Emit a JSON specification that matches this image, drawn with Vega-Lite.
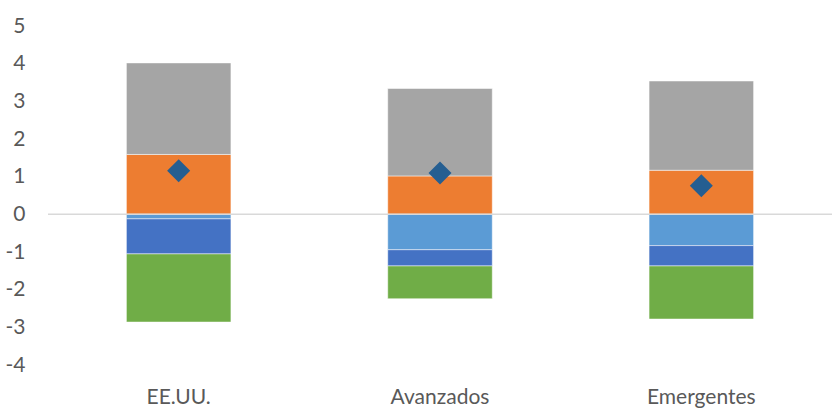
{
  "$schema": "https://vega.github.io/schema/vega-lite/v6.json",
  "width": 784,
  "height": 339,
  "autosize": {"type": "none"},
  "padding": {"left": 48, "top": 26, "right": 0, "bottom": 54},
  "background": "white",
  "config": {
    "view": {"stroke": null},
    "font": "Lato",
    "axisY": {
      "values": [-4, -3, -2, -1, 0, 1, 2, 3, 4, 5],
      "labelExpr": "toString(datum.value)",
      "labelOverlap": false,
      "grid": false,
      "domain": false,
      "ticks": false,
      "labelPadding": 23,
      "labelFontSize": 21,
      "labelColor": "#595959",
      "title": null
    }
  },
  "datasets": {
    "bars": [
      {"cat": "EE.UU.", "comp": "A", "ord": 1, "value": 1.59},
      {"cat": "EE.UU.", "comp": "B", "ord": 2, "value": 2.43},
      {"cat": "EE.UU.", "comp": "C", "ord": 3, "value": -0.12},
      {"cat": "EE.UU.", "comp": "D", "ord": 4, "value": -0.93},
      {"cat": "EE.UU.", "comp": "E", "ord": 5, "value": -1.81},
      {"cat": "Avanzados", "comp": "A", "ord": 1, "value": 1.02},
      {"cat": "Avanzados", "comp": "B", "ord": 2, "value": 2.32},
      {"cat": "Avanzados", "comp": "C", "ord": 3, "value": -0.94},
      {"cat": "Avanzados", "comp": "D", "ord": 4, "value": -0.43},
      {"cat": "Avanzados", "comp": "E", "ord": 5, "value": -0.87},
      {"cat": "Emergentes", "comp": "A", "ord": 1, "value": 1.17},
      {"cat": "Emergentes", "comp": "B", "ord": 2, "value": 2.37},
      {"cat": "Emergentes", "comp": "C", "ord": 3, "value": -0.83},
      {"cat": "Emergentes", "comp": "D", "ord": 4, "value": -0.54},
      {"cat": "Emergentes", "comp": "E", "ord": 5, "value": -1.41}
    ],
    "totals": [
      {"cat": "EE.UU.", "total": 1.16},
      {"cat": "Avanzados", "total": 1.10},
      {"cat": "Emergentes", "total": 0.76}
    ]
  },
  "encoding": {
    "x": {
      "field": "cat",
      "type": "nominal",
      "sort": ["EE.UU.", "Avanzados", "Emergentes"],
      "scale": {"paddingInner": 0.6, "paddingOuter": 0.3},
      "axis": {
        "title": null,
        "labelAngle": 0,
        "domain": false,
        "ticks": false,
        "labelPadding": 21,
        "labelFontSize": 21,
        "labelColor": "#595959"
      }
    }
  },
  "layer": [
    {
      "data": {"name": "bars"},
      "mark": {"type": "bar", "stroke": "white", "strokeWidth": 0.5},
      "encoding": {
        "y": {
          "field": "value",
          "type": "quantitative",
          "stack": "zero",
          "scale": {"domain": [-4, 5], "nice": false}
        },
        "color": {
          "field": "comp",
          "type": "nominal",
          "scale": {
            "domain": ["A", "B", "C", "D", "E"],
            "range": ["#ED7D31", "#A5A5A5", "#5B9BD5", "#4472C4", "#70AD47"]
          },
          "legend": null
        },
        "order": {"field": "ord", "type": "quantitative"}
      }
    },
    {
      "data": {"values": [{"z": 0}]},
      "mark": {"type": "rule", "color": "#D9D9D9", "strokeWidth": 1.5},
      "encoding": {"x": null, "y": {"field": "z", "type": "quantitative"}}
    },
    {
      "data": {"name": "totals"},
      "mark": {"type": "point", "shape": "diamond", "filled": true, "size": 530, "color": "#255E91", "opacity": 1},
      "encoding": {
        "y": {"field": "total", "type": "quantitative"}
      }
    }
  ]
}
